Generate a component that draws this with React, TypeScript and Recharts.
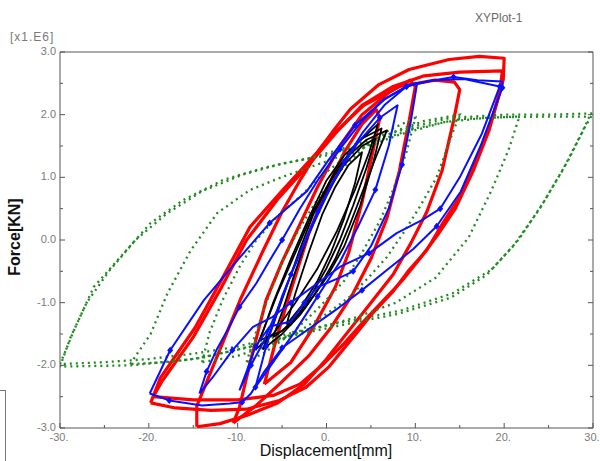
import React from 'react';
import { ScatterChart, Scatter, XAxis, YAxis } from 'recharts';

type Pt = [number, number];

// ---- Green (dotted) loops ----
const greenOuterA: Pt[] = [
  [-30, -1.98], [-28.3, -1.4], [-26.2, -0.75], [-23.2, -0.27], [-19.8, 0.27], [-16.1, 0.64], [-11.6, 0.96],
  [-7.1, 1.15], [-1.9, 1.31], [0.2, 1.39], [5, 1.6], [10, 1.82], [14, 1.95], [20, 2.0], [25, 2.0], [30, 2.02],
  [29.2, 1.83], [27.2, 1.27], [24.6, 0.64], [21.6, 0.0], [18.6, -0.47], [14.2, -0.85], [8.5, -1.12], [4.8, -1.23],
  [0, -1.36], [-5, -1.52], [-10, -1.7], [-14.3, -1.8], [-20, -1.9], [-25, -1.95], [-30, -1.98],
];
const greenOuterB: Pt[] = [
  [-30, -2.02], [-28.8, -1.55], [-27, -1.0], [-24.5, -0.5], [-21.5, 0.0], [-18, 0.42], [-14, 0.78], [-9.5, 1.04],
  [-5, 1.22], [0, 1.35], [5, 1.55], [10, 1.78], [15, 1.93], [20, 1.96], [25, 1.97], [29.6, 1.97],
  [28.7, 1.7], [26.6, 1.12], [24, 0.5], [21, -0.1], [18, -0.56], [14, -0.92], [8, -1.18], [3, -1.32],
  [-3, -1.5], [-9, -1.72], [-15, -1.9], [-22, -2.0], [-30, -2.02],
];
const greenMid: Pt[] = [
  [-22.1, -1.98], [-19.8, -1.5], [-17.9, -0.85], [-15.3, -0.17], [-12.3, 0.43], [-8.6, 0.8], [-4.9, 1.01],
  [-1.1, 1.2], [3.2, 1.42], [8.2, 1.68], [13.2, 1.88], [18, 1.95], [21.6, 1.97],
  [21.6, 1.92], [20.5, 1.44], [18.6, 0.8], [16, 0.04], [12.3, -0.6], [7.8, -1.0], [3.2, -1.24], [-3, -1.48],
  [-8, -1.68], [-14, -1.88], [-18, -1.95], [-22.1, -1.98],
];
const greenInner: Pt[] = [
  [-14, -1.95], [-13.2, -1.49], [-11.7, -0.96], [-9.8, -0.43], [-7.9, 0], [-5.6, 0.37], [-3, 0.69], [-0.8, 1.0],
  [2, 1.3], [5, 1.55], [8, 1.75], [11, 1.9], [15, 2.0],
  [14.2, 1.71], [12.4, 1.0], [10.5, 0.53], [8.6, 0.1], [6.8, -0.27], [4.8, -0.59], [2.5, -0.92], [0, -1.18],
  [-3, -1.45], [-6, -1.65], [-10, -1.85], [-14, -1.95],
];
const greenSmall: Pt[] = [
  [-9, -1.95], [-8, -1.5], [-6.5, -0.9], [-5, -0.35], [-3, 0.2], [-1, 0.65], [1.5, 1.1], [4, 1.45], [7, 1.75], [10, 1.95],
  [9, 1.4], [7.5, 0.8], [6, 0.3], [4, -0.2], [2, -0.65], [-1, -1.1], [-4, -1.5], [-7, -1.8], [-9, -1.95],
];

// ---- Red loops ----
const redOuterA: Pt[] = [
  [-19.8, -2.6], [-19.3, -2.42], [-18.7, -2.2], [-14.8, -1.4], [-11.8, -0.63], [-8.6, 0.21], [-4.9, 0.8], [-1.1, 1.39],
  [0.7, 1.73], [2.7, 2.09], [5.9, 2.48], [9.3, 2.72], [13.8, 2.88], [17.2, 2.93], [20, 2.9],
  [19.9, 2.56], [18.7, 1.97], [16.9, 1.28], [15, 0.69], [13.1, 0.27], [11.3, -0.16], [9.3, -0.48], [7.5, -0.82],
  [5.3, -1.15], [3, -1.55], [0.3, -2.02], [-2.3, -2.35], [-5.3, -2.56], [-9, -2.7], [-13, -2.72], [-17, -2.68], [-19.8, -2.6],
];
const redOuterB: Pt[] = [
  [-19.5, -2.5], [-18.5, -2.25], [-15, -1.55], [-12, -0.8], [-9, 0.0], [-5.5, 0.65], [-2, 1.2], [1, 1.7], [4, 2.15],
  [7.5, 2.45], [11, 2.62], [15, 2.68], [19.8, 2.7],
  [19.5, 2.35], [18.3, 1.75], [16.5, 1.1], [14.5, 0.5], [12.5, 0.08], [10.5, -0.3], [8.5, -0.65], [6.5, -0.95],
  [4.5, -1.25], [2, -1.65], [-0.5, -2.0], [-3, -2.3], [-6, -2.48], [-10, -2.55], [-15, -2.55], [-19.5, -2.5],
];
const redMid: Pt[] = [
  [-14.6, -2.98], [-14.6, -2.65], [-12, -1.75], [-9.7, -0.95], [-7.1, -0.16], [-5, 0.45], [-3, 0.95], [-1, 1.4],
  [1.2, 1.75], [4.2, 2.15], [8.2, 2.45], [12.2, 2.55], [14.4, 2.52], [15, 2.4],
  [14.3, 1.9], [13, 1.1], [11.3, 0.45], [9.5, -0.05], [7.5, -0.55], [5, -1.0], [2.5, -1.45], [0, -1.9],
  [-2.5, -2.3], [-5.5, -2.6], [-9, -2.8], [-12, -2.93], [-14.6, -2.98],
];
const redInner: Pt[] = [
  [-10.5, -2.92], [-9.8, -2.67], [-8.5, -1.9], [-6.8, -0.96], [-5, -0.35], [-3, 0.25], [-1, 0.85], [1.5, 1.5],
  [4, 2.0], [7, 2.35], [9.4, 2.55], [10, 2.45],
  [9.3, 1.9], [8.2, 1.1], [6.8, 0.35], [5, -0.3], [3, -0.85], [0.5, -1.4], [-2, -1.85], [-5.3, -2.3], [-8, -2.65], [-10.5, -2.92],
];
const redSmall: Pt[] = [
  [-7, -2.3], [-5.5, -1.5], [-4, -0.8], [-2, 0.1], [0, 0.8], [2, 1.4], [4, 1.85], [5.6, 2.08], [6, 1.95],
  [5.2, 1.4], [4, 0.6], [2.5, -0.2], [1, -0.75], [-1.5, -1.4], [-4, -1.95], [-7, -2.3],
];

// ---- Black loops ----
const blackA: Pt[] = [
  [-7.2, -1.75], [-6, -1.35], [-4.5, -0.75], [-3, -0.15], [-1.5, 0.4], [0.5, 0.95], [2.5, 1.35], [4.5, 1.6], [6.8, 1.75],
  [5.5, 1.3], [4, 0.75], [2.5, 0.2], [1, -0.3], [-1, -0.8], [-3, -1.2], [-5, -1.5], [-7.2, -1.75],
];
const blackB: Pt[] = [
  [-6, -1.55], [-5, -1.15], [-3.5, -0.5], [-2, 0.1], [0, 0.75], [2, 1.2], [4, 1.5], [5.5, 1.62],
  [4.5, 1.15], [3, 0.55], [1.5, 0], [0, -0.45], [-2, -0.95], [-4, -1.35], [-6, -1.55],
];
const blackC: Pt[] = [
  [-4.5, -1.35], [-3.5, -0.85], [-2, -0.2], [-0.5, 0.4], [1, 0.85], [2.5, 1.2], [4, 1.4],
  [3.2, 0.9], [2, 0.35], [0.5, -0.2], [-1, -0.65], [-2.8, -1.05], [-4.5, -1.35],
];
const blackD: Pt[] = [
  [-7.5, -1.6], [-6, -1.0], [-4, -0.3], [-2, 0.35], [0, 0.95], [2, 1.35], [4, 1.62], [6.2, 1.78],
  [5.2, 1.2], [3.8, 0.55], [2, -0.1], [0, -0.6], [-2.5, -1.1], [-5, -1.45], [-7.5, -1.6],
];
const blackE: Pt[] = [
  [-8, -1.75], [-7, -1.4], [-5.5, -0.85], [-3.5, -0.2], [-1.5, 0.45], [1, 1.1], [3.5, 1.55], [5.8, 1.85],
  [4.8, 1.4], [3.2, 0.8], [1.2, 0.15], [-1, -0.45], [-3.5, -1.0], [-6, -1.5], [-8, -1.75],
];

// ---- Blue loops ----
const blueA: Pt[] = [
  [-19.9, -2.45], [-17.6, -1.76], [-13.8, -0.96], [-9.7, -0.27], [-6.4, 0.27], [-2.2, 0.78], [0.2, 1.27], [3.2, 1.83],
  [6.5, 2.24], [9.4, 2.48], [14.3, 2.6], [17, 2.55], [19.8, 2.53],
  [19.8, 2.43], [17.4, 1.52], [15.1, 0.77], [12.4, 0.22], [9.8, -0.14], [6.8, -0.48], [4, -0.8], [1, -1.12],
  [-2, -1.42], [-5, -1.72], [-7, -2.1], [-8.5, -2.45], [-9.5, -2.59], [-10.9, -2.61], [-14, -2.64], [-17.7, -2.56], [-19.9, -2.45],
];
const blueB: Pt[] = [
  [-14.3, -2.45], [-13.5, -2.1], [-12.4, -1.76], [-11, -1.4], [-9.8, -1.07], [-7.9, -0.69], [-6.5, -0.35], [-5, 0],
  [-3, 0.5], [-1, 0.95], [1.5, 1.45], [4, 1.9], [6.5, 2.25], [9, 2.45], [12, 2.55], [15.5, 2.57], [19.5, 2.45],
  [17.5, 1.7], [15, 1.0], [12.8, 0.5], [10.8, 0.32], [7.9, 0.11], [4.8, -0.21], [1.5, -0.43], [-1.6, -0.75],
  [-4, -1.0], [-6.1, -1.23], [-8.3, -1.39], [-10.6, -1.76], [-12.8, -2.19], [-14.3, -2.45],
];
const blueC: Pt[] = [
  [-9.8, -2.4], [-8.5, -2.0], [-7, -1.6], [-5.5, -1.1], [-4, -0.55], [-2, 0.1], [0, 0.7], [2, 1.25], [4, 1.7],
  [6.5, 2.15], [9, 2.45], [10.2, 2.5],
  [9.5, 1.9], [8.5, 1.2], [7, 0.5], [5, -0.1], [3, -0.5], [1.5, -0.6], [-1, -0.75], [-2.5, -1.0], [-4, -1.3],
  [-6.4, -1.38], [-8, -1.7], [-9, -2.1], [-9.8, -2.4],
];
const blueD: Pt[] = [
  [-8, -2.35], [-6.8, -1.7], [-5, -0.9], [-3, -0.2], [-1, 0.45], [1, 1.0], [3.5, 1.55], [6, 1.95], [8, 2.15],
  [7, 1.5], [5.5, 0.8], [3.5, 0.2], [1.5, -0.35], [-1, -0.9], [-3.5, -1.45], [-6, -1.95], [-8, -2.35],
];

const X_TICKS = [-30, -25, -20, -15, -10, -5, 0, 5, 10, 15, 20, 25, 30];
const Y_TICKS = [-3, -2.5, -2, -1.5, -1, -0.5, 0, 0.5, 1, 1.5, 2, 2.5, 3];

const RED = '#ff0000';
const BLUE = '#0a10ff';
const GREEN = '#1f8a1f';
const BLACK = '#000000';
const AXIS = '#555555';
const LABEL = '#7a7a7a';
const FONT = '"Liberation Sans", Arial, sans-serif';

const toXY = (a: Pt[]) => a.map(([x, y]) => ({ x, y }));
const xLabel = (v: number) => (v % 10 === 0 ? `${v}.` : '');
const yLabel = (v: number) => (Number.isInteger(v) ? v.toFixed(1) : '');

function BottomTick(props: any) {
  const { x, y, payload } = props;
  const v = payload.value;
  const major = v % 10 === 0;
  return (
    <g>
      <line x1={x} x2={x} y1={y} y2={y - (major ? 5 : 3)} stroke={AXIS} />
      {major && (
        <text x={x - 1} y={y + 13} textAnchor="middle" fontSize={11} fill={LABEL} fontFamily={FONT}>
          {xLabel(v)}
        </text>
      )}
    </g>
  );
}
function TopTick(props: any) {
  const { x, y, payload } = props;
  const major = payload.value % 10 === 0;
  return <line x1={x} x2={x} y1={y} y2={y + (major ? 5 : 3)} stroke={AXIS} />;
}
function LeftTick(props: any) {
  const { x, y, payload } = props;
  const v = payload.value;
  const major = Number.isInteger(v);
  return (
    <g>
      <line x1={x} x2={x + (major ? 5 : 3)} y1={y} y2={y} stroke={AXIS} />
      {major && (
        <text x={x - 4} y={y + 3} textAnchor="end" fontSize={11} fill={LABEL} fontFamily={FONT}>
          {yLabel(v)}
        </text>
      )}
    </g>
  );
}
function RightTick(props: any) {
  const { x, y, payload } = props;
  const major = Number.isInteger(payload.value);
  return <line x1={x} x2={x - (major ? 5 : 3)} y1={y} y2={y} stroke={AXIS} />;
}

const noShape = () => <g />;
function diamond(props: any) {
  const { cx, cy, index } = props;
  if (typeof index !== 'number' || index % 3 !== 1) return <g />;
  return <path d={`M${cx},${cy - 3.5}L${cx + 3},${cy}L${cx},${cy + 3.5}L${cx - 3},${cy}Z`} fill={BLUE} />;
}

const redSeries = [redOuterA, redOuterB, redMid, redInner, redSmall];
const greenSeries = [greenOuterA, greenOuterB, greenMid, greenInner, greenSmall];
const blackSeries = [blackA, blackB, blackC, blackD, blackE];
const blueSeries = [blueA, blueB, blueC, blueD];

export default function App() {
  return (
    <div style={{ position: 'absolute', left: 0, top: 0, width: 600, height: 461, background: '#fff', overflow: 'hidden', fontFamily: FONT }}>
      <ScatterChart width={600} height={461} margin={{ top: 51, right: 6, bottom: 0, left: 0 }}>
        <XAxis
          dataKey="x" type="number" domain={[-30, 30]} ticks={X_TICKS} interval={0}
          tick={(p: any) => <BottomTick {...p} />} tickLine={false} tickSize={0} tickMargin={0}
          height={33} stroke={AXIS} allowDataOverflow
        />
        <XAxis
          xAxisId="t" orientation="top" type="number" domain={[-30, 30]} ticks={X_TICKS} interval={0}
          tick={(p: any) => <TopTick {...p} />} tickLine={false} tickSize={0} tickMargin={0}
          height={1} stroke={AXIS} allowDataOverflow
        />
        <YAxis
          dataKey="y" type="number" domain={[-3, 3]} ticks={Y_TICKS} interval={0}
          tick={(p: any) => <LeftTick {...p} />} tickLine={false} tickSize={0} tickMargin={0}
          width={60} stroke={AXIS} allowDataOverflow
        />
        <YAxis
          yAxisId="r" orientation="right" type="number" domain={[-3, 3]} ticks={Y_TICKS} interval={0}
          tick={(p: any) => <RightTick {...p} />} tickLine={false} tickSize={0} tickMargin={0}
          width={1} stroke={AXIS} allowDataOverflow
        />
        {redSeries.map((s, i) => (
          <Scatter key={`r${i}`} data={toXY(s)} fill={RED} line={{ stroke: RED, strokeWidth: 3.2, strokeLinejoin: 'round' }}
            lineType="joint" lineJointType="linear" shape={noShape} isAnimationActive={false} />
        ))}
        {greenSeries.map((s, i) => (
          <Scatter key={`g${i}`} data={toXY(s)} fill={GREEN}
            line={{ stroke: GREEN, strokeWidth: 2.3, strokeDasharray: '2 4' }}
            lineType="joint" lineJointType="linear" shape={noShape} isAnimationActive={false} />
        ))}
        {blackSeries.map((s, i) => (
          <Scatter key={`k${i}`} data={toXY(s)} fill={BLACK} line={{ stroke: BLACK, strokeWidth: 1.8, strokeLinejoin: 'round' }}
            lineType="joint" lineJointType="linear" shape={noShape} isAnimationActive={false} />
        ))}
        {blueSeries.map((s, i) => (
          <Scatter key={`b${i}`} data={toXY(s)} fill={BLUE} line={{ stroke: BLUE, strokeWidth: 2, strokeLinejoin: 'round' }}
            lineType="joint" lineJointType="linear" shape={diamond} isAnimationActive={false} />
        ))}
      </ScatterChart>

      <div style={{ position: 'absolute', left: 475, top: 12, fontSize: 12, color: '#6a6a6a', whiteSpace: 'nowrap', lineHeight: 1 }}>XYPlot-1</div>
      <div style={{ position: 'absolute', left: 10, top: 31, fontSize: 12, letterSpacing: 1, color: LABEL, whiteSpace: 'nowrap', lineHeight: 1 }}>[x1.E6]</div>
      <div style={{ position: 'absolute', left: 15, top: 237, transform: 'translate(-50%, -50%) rotate(-90deg)', fontSize: 16, fontWeight: 'bold', color: '#111', whiteSpace: 'nowrap', lineHeight: 1 }}>Force[KN]</div>
      <div style={{ position: 'absolute', left: 326, top: 451, transform: 'translate(-50%, -50%)', fontSize: 16, color: '#111', whiteSpace: 'nowrap', lineHeight: 1 }}>Displacement[mm]</div>
      <div style={{ position: 'absolute', left: -10, top: 390, width: 16, height: 100, border: '1px solid #777', boxSizing: 'border-box' }} />
    </div>
  );
}
